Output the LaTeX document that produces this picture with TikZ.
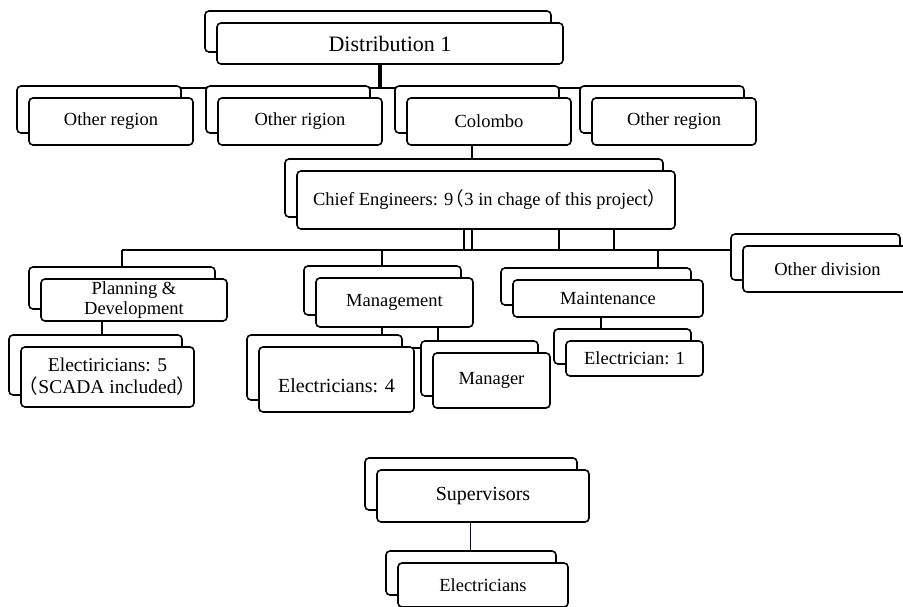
\documentclass[tikz,border=0pt]{standalone}
\usepackage{fontspec}
\setmainfont{Liberation Serif}
\newfontfamily\cjk{Noto Sans CJK SC}
\usetikzlibrary{calc,shadows,backgrounds}
\newcommand{\lp}{\kern-.4em{\cjk （}}
\newcommand{\rp}{{\cjk ）}\kern-.4em}

\begin{document}
\begin{tikzpicture}[x=1pt, y=-1pt,
    box/.style={draw, rounded corners=4pt, fill=white, line width=1.6pt, inner sep=2pt,
      align=center, font=\fontsize{18.5}{20}\selectfont,
      copy shadow={shadow xshift=-12pt, shadow yshift=12pt, draw=black, fill=white, line width=1.6pt}},
    link/.style={line width=1.6pt},
    thinlink/.style={line width=0.9pt, draw=black!70!blue}]
\useasboundingbox (0,0) rectangle (903,607);
\node[box, minimum width=346pt, minimum height=41pt, font=\fontsize{22}{24}\selectfont] (dist) at (390,43.5) {Distribution 1};
\node[box, minimum width=164pt, minimum height=47pt] (reg1) at (111,121.5) {Other region};
\node[box, minimum width=164pt, minimum height=47pt] (reg2) at (300,121.5) {Other rigion};
\node[box, minimum width=164pt, minimum height=47pt] (col) at (489,121.5) {Colombo};
\node[box, minimum width=164pt, minimum height=47pt] (reg4) at (674,121.5) {Other region};
\node[box, minimum width=378pt, minimum height=58pt] (chief) at (486,200) {Chief Engineers: 9\lp 3 in chage of this project\rp};
\node[box, minimum width=186pt, minimum height=42pt] (plan) at (134,300) {Planning \&\\Development};
\node[box, minimum width=173pt, minimum height=60pt, font=\fontsize{19.5}{22}\selectfont] (elec5) at (107.5,377) {Electiricians: 5\\\lp SCADA included\rp};
\node[box, minimum width=157pt, minimum height=49pt] (mgmt) at (394.5,302.5) {Management};
\node[box, minimum width=155pt, minimum height=65pt, font=\fontsize{20}{22}\selectfont] (elec4) at (336.5,379.5) {\raisebox{-6pt}[\height][\depth]{Electricians: 4}};
\node[box, minimum width=117pt, minimum height=55pt] (mgr) at (491.5,380.5) {Manager};
\node[box, minimum width=190pt, minimum height=37pt] (maint) at (608,298.5) {Maintenance};
\node[box, minimum width=137pt, minimum height=35pt] (elec1) at (634.5,358.5) {Electrician: 1};
\node[box, minimum width=169pt, minimum height=46pt] (othd) at (827.5,269) {Other division};
\node[box, minimum width=212pt, minimum height=52pt, font=\fontsize{20}{22}\selectfont] (sup) at (483,496) {Supervisors};
\node[box, minimum width=170pt, minimum height=44pt] (elecs) at (483,585) {Electricians};

\begin{scope}[on background layer]
\coordinate (rbus) at (0,88);
\coordinate (dbus) at (0,250);
\coordinate (tie) at (0,348);
\draw[link, line width=3.5pt] ([xshift=-10pt]dist.south) -- ([xshift=-10pt]dist.south |- rbus);
\draw[link] (reg1.north |- rbus) -- (reg4.north |- rbus);
\draw[link] ([xshift=-17pt]col.south) -- ([xshift=-17pt]col.south |- chief.north);
\foreach \xx in {464,472,559,614}
  \draw[link] (chief.south -| \xx,0) -- (dbus -| \xx,0);
\draw[link] ([xshift=-12pt]plan.north |- dbus) -- (othd.west |- dbus);
\draw[link] ([xshift=-12pt]plan.north |- dbus) -- ([xshift=-12pt]plan.north);
\draw[link] ([xshift=-12.5pt]mgmt.north |- dbus) -- ([xshift=-12.5pt]mgmt.north);
\draw[link] ([xshift=50pt]maint.north |- dbus) -- ([xshift=50pt]maint.north);
\draw[link] ([xshift=-32pt]plan.south) -- ([xshift=-32pt]plan.south |- elec5.north);
\draw[link] ([xshift=-12.5pt]mgmt.south) -- ([xshift=-12.5pt]mgmt.south |- elec4.north);
\draw[link] ([xshift=43.5pt]mgmt.south) -- ([xshift=43.5pt]mgmt.south |- mgr.north);
\draw[link] (elec4.north |- tie) -- (mgr.north |- tie);
\draw[link] ([xshift=-7pt]maint.south) -- ([xshift=-7pt]maint.south |- elec1.north);
\draw[thinlink] ([xshift=-13pt]sup.south) -- ([xshift=-13pt]sup.south |- elecs.north);
\end{scope}
\end{tikzpicture}
\end{document}
